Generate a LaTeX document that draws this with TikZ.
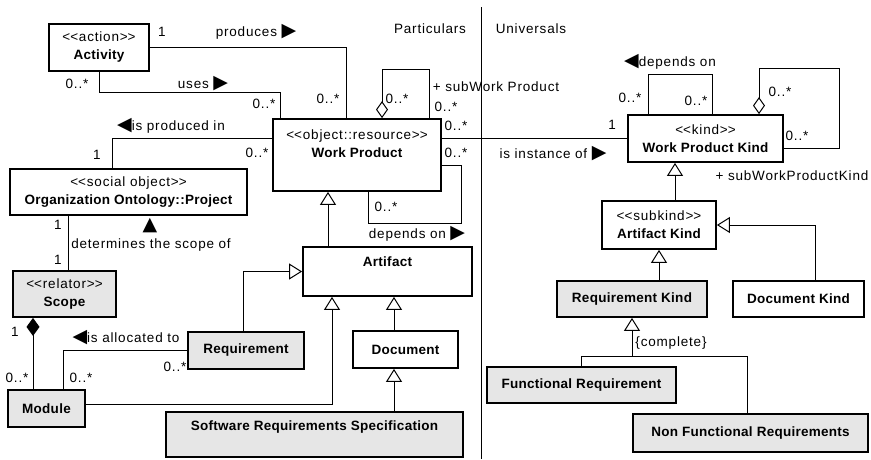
\documentclass[tikz,border=0pt]{standalone}
\usepackage{fontspec}
\setmainfont{Liberation Sans}[LetterSpace=6, BoldFeatures={LetterSpace=2}]
\newfontfamily\symfont{DejaVu Sans}
\usepackage{tikz}
\usetikzlibrary{arrows.meta, positioning}
\definecolor{kindgray}{RGB}{230, 230, 230}

\newcommand{\stereo}[1]{{\mdseries<\kern0pt<#1>\kern0pt>}}
\newcommand{\rtri}{{\symfont\fontsize{19}{19}\selectfont ▶}}
\newcommand{\ltri}{{\symfont\fontsize{19}{19}\selectfont ◀}}
\newcommand{\utri}{{\symfont\fontsize{19}{19}\selectfont ▲}}

\begin{document}
\begin{tikzpicture}[x=1pt, y=1pt,
    every node/.style={font=\fontsize{13.5}{18}\selectfont},
    cls/.style={draw, line width=1.8pt, fill=white, inner sep=0pt, align=center, font=\fontsize{13.5}{18}\selectfont\bfseries},
    kind/.style={cls, fill=kindgray},
    clsname/.style={inner sep=0pt, align=center, font=\fontsize{13.5}{18}\selectfont\bfseries},
    lbl/.style={inner sep=0pt},
    assoc/.style={line width=1pt},
    gen/.style={assoc, -{Triangle[open, length=13pt, width=16pt]}},
    aggr/.style={assoc, {Diamond[open, length=17pt, width=12pt]}-},
    comp/.style={assoc, {Diamond[length=18pt, width=13pt]}-}
]
\useasboundingbox (0,0) rectangle (871,-459);

% Particulars
\node[cls, minimum width=100, minimum height=47] (act) at (99,-47.5) {\stereo{action}\\Activity};
\node[cls, minimum width=168, minimum height=72] (wp) at (357,-155) {};
\node[clsname] (wpTxt) at ([yshift=-26]wp.north) {\stereo{object::resource}\\Work Product};
\node[cls, minimum width=237, minimum height=46] (org) at (128.5,-192) {\stereo{social object}\\Organization Ontology::Project};
\node[kind, minimum width=103, minimum height=46] (scope) at (64.5,-294) {\stereo{relator}\\Scope};
\node[kind, minimum width=116, minimum height=37] (req) at (246,-350.5) {Requirement};
\node[kind, minimum width=77, minimum height=37] (mod) at (46.5,-408.5) {Module};
\node[cls, minimum width=169, minimum height=49] (art) at (387.5,-271.5) {};
\node[clsname] (artTxt) at ([yshift=-16]art.north) {Artifact};
\node[cls, minimum width=105, minimum height=37] (doc) at (405.5,-349.5) {Document};
\node[kind, minimum width=297, minimum height=45] (srs) at (314.5,-434.5) {};
\node[clsname] (srsTxt) at ([yshift=-16]srs.north) {Software Requirements Specification};

% Universals
\node[cls, minimum width=155, minimum height=47] (wpk) at (705.5,-138.5) {\stereo{kind}\\Work Product Kind};
\node[cls, minimum width=114, minimum height=48] (artk) at (659,-225) {\stereo{subkind}\\Artifact Kind};
\node[kind, minimum width=150, minimum height=36] (reqk) at (632,-299) {Requirement Kind};
\node[cls, minimum width=131, minimum height=36] (dock) at (798.5,-299) {Document Kind};
\node[kind, minimum width=189, minimum height=36] (freq) at (581.5,-385) {Functional Requirement};
\node[kind, minimum width=235, minimum height=38] (nfr) at (750.5,-433) {Non Functional Requirements};

\draw[assoc] (481,-7) -- (481,-459);
\node[lbl] (partLbl) at (430,-29) {Particulars};
\node[lbl] (univLbl) at (531,-29) {Universals};

% Associations (particulars)
\draw[assoc] (act.east) -| ([xshift=-11]wp.north);
\draw[assoc] (act.south) |- ([xshift=8,yshift=26]wp.north west) -- ([xshift=8]wp.north west);
\draw[assoc] ([yshift=17]wp.west) -| ([xshift=-16.5]org.north);
\coordinate (detTop) at ([xshift=-60.5]org.south);
\draw[assoc] (detTop) -- (detTop |- scope.north);
\coordinate (compTop) at ([xshift=-31.5]scope.south);
\draw[comp] (compTop) -- (compTop |- mod.north);
\draw[assoc] ([xshift=16.5]mod.north) |- (req.west);
\draw[assoc] ([yshift=-10]wp.east) -- ++(20,0) |- ([xshift=11,yshift=-32]wp.south) -- ([xshift=11]wp.south);
\draw[aggr] ([xshift=25]wp.north) -- ++(0,49) -| ([xshift=72]wp.north);
\draw[assoc] (wp.east |- wpk.west) -- (wpk.west);

% Generalizations (particulars)
\coordinate (artTop) at ([xshift=-59.5]art.north);
\draw[gen] (artTop) -- (artTop |- wp.south);
\draw[gen] ([xshift=-3]req.north) |- (art.west);
\draw[gen] ([yshift=4]mod.east) -| ([xshift=-55.5]art.south);
\coordinate (docTop) at ([xshift=-11.5]doc.north);
\draw[gen] (docTop) -- (docTop |- art.south);
\draw[gen] (srs.north -| docTop) -- (doc.south -| docTop);

% Universals
\draw[assoc] ([xshift=-57.5]wpk.north) -- ++(0,40) -| ([xshift=6.5]wpk.north);
\draw[aggr] ([xshift=53.5]wpk.north) -- ++(0,46) -| ([xshift=56,yshift=-9.5]wpk.east) -- ([yshift=-9.5]wpk.east);
\coordinate (artkTop) at ([xshift=16]artk.north);
\draw[gen] (artkTop) -- (artkTop |- wpk.south);
\draw[gen] ([xshift=16.5]dock.north) |- (artk.east);
\draw[gen] (reqk.north -| artk.south) -- (artk.south);
\coordinate (split) at ([yshift=-39]reqk.south);
\draw[gen] (freq.north) |- (split) -- (reqk.south);
\draw[assoc] ([xshift=-3.5]nfr.north) |- (split);

% Labels
\node[lbl] (prodOne) at (162,-32) {1};
\node[lbl] (prodLbl) at (256,-32) {produces \rtri};
\node[lbl] (prodMany) at (328,-99) {0..*};
\node[lbl] (usesMany1) at (77,-84) {0..*};
\node[lbl] (usesLbl) at (203,-84) {uses \rtri};
\node[lbl] (usesMany2) at (264,-104) {0..*};
\node[lbl] (inLbl) at (171,-126) {\ltri is produced in};
\node[lbl] (inOne) at (97,-155) {1};
\node[lbl] (inMany) at (257,-153) {0..*};
\node[lbl] (subMany1) at (397,-99) {0..*};
\node[lbl] (subLbl) at (496,-87) {+ subWork Product};
\node[lbl] (subMany2) at (446,-107) {0..*};
\node[lbl] (instMany) at (456,-126) {0..*};
\node[lbl] (depMany1) at (456,-153) {0..*};
\node[lbl] (depMany2) at (386,-207) {0..*};
\node[lbl] (depLbl) at (417,-234) {depends on \rtri};
\node[lbl] (instLbl) at (553,-154) {is instance of \rtri};
\node[lbl] (instOne) at (612,-125) {1};
\node[lbl] (kdepLbl) at (670,-62) {\ltri depends on};
\node[lbl] (kdepMany1) at (630,-98) {0..*};
\node[lbl] (kdepMany2) at (696,-101) {0..*};
\node[lbl] (ksubMany1) at (780,-92) {0..*};
\node[lbl] (ksubMany2) at (797,-136) {0..*};
\node[lbl] (ksubLbl) at (792,-176) {+ subWorkProductKind};
\node[lbl] (detOne1) at (58,-225) {1};
\node[lbl] (detOne2) at (58,-260) {1};
\node[lbl] (detLbl) at (151,-245) {determines the scope of};
\node[lbl] (detDir) at (150,-226) {\utri};
\node[lbl] (compOne) at (15,-332) {1};
\node[lbl] (compMany) at (17,-378) {0..*};
\node[lbl] (allocMany1) at (81,-378) {0..*};
\node[lbl] (allocMany2) at (175,-367) {0..*};
\node[lbl] (allocLbl) at (126,-338) {\ltri is allocated to};
\node[lbl] (complLbl) at (671,-343) {\{complete\}};

\end{tikzpicture}
\end{document}
